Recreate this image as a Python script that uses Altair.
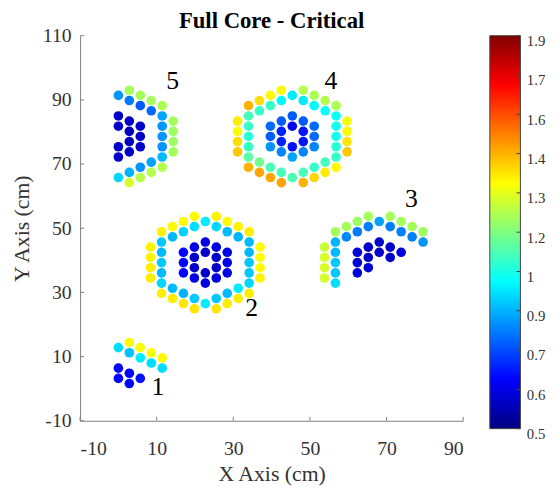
import altair as alt
import pandas as pd

SERIF = "Liberation Serif"

# ---- assembly centres (cm) ----
asm_id = [1, 2, 3, 4, 5]
asm_cx = [0.0, 22.7, 68.1, 45.4, 0.0]
asm_cy = [0.0, 39.3, 39.3, 78.6, 78.6]

# rod lattice spacing (cm): column step and half of the row pitch
COL_STEP = 2.86
HALF_PITCH = 1.60

# rods of each assembly: (column index, half-row index, value)
asm1 = [
    (0, 2, 0.68), (0, 4, 0.68), (1, 1, 0.68), (1, 3, 0.68), (2, 2, 0.70),
    (0, 8, 0.98), (1, 7, 0.94), (2, 6, 1.00), (3, 5, 0.98), (4, 4, 0.98),
    (1, 9, 1.38), (2, 8, 1.37), (3, 7, 1.37), (4, 6, 1.38),
]

asm2 = [
    (0, 2, 0.60), (-1, 1, 0.60), (1, 1, 0.60), (-1, -1, 0.60), (1, -1, 0.60), (0, -2, 0.60),
    (0, 4, 0.63), (-1, 3, 0.64), (1, 3, 0.63), (-2, 2, 0.68), (2, 2, 0.64), (-2, 0, 0.68),
    (2, 0, 0.64), (-2, -2, 0.68), (2, -2, 0.64), (-1, -3, 0.64), (1, -3, 0.63), (0, -4, 0.63),
    (0, 8, 1.00), (-1, 7, 0.98), (1, 7, 0.97), (-2, 6, 0.96), (2, 6, 0.93), (-3, 5, 0.93),
    (3, 5, 0.92), (-4, 4, 0.95), (4, 4, 0.93), (-4, 2, 0.93), (4, 2, 0.93), (-4, 0, 0.95),
    (4, 0, 0.95), (-4, -2, 0.93), (4, -2, 0.95), (-4, -4, 0.97), (4, -4, 0.97), (-3, -5, 0.93),
    (3, -5, 1.00), (-2, -6, 0.92), (2, -6, 0.93), (-1, -7, 0.95), (1, -7, 0.95), (0, -8, 1.00),
    (-1, 9, 1.38), (1, 9, 1.39), (-2, 8, 1.38), (2, 8, 1.38), (-3, 7, 1.38), (3, 7, 1.39),
    (-4, 6, 1.39), (4, 6, 1.40), (-5, 3, 1.39), (5, 3, 1.38), (-5, 1, 1.39), (5, 1, 1.38),
    (-5, -1, 1.40), (5, -1, 1.38), (-5, -3, 1.40), (5, -3, 1.39), (-4, -6, 1.40), (4, -6, 1.40),
    (-3, -7, 1.40), (3, -7, 1.40), (-2, -8, 1.41), (2, -8, 1.40), (-1, -9, 1.41), (1, -9, 1.41),
]

asm3 = [
    (-2, 2, 0.62), (-2, 0, 0.62), (-2, -2, 0.62), (-1, 3, 0.60), (-1, 1, 0.60), (-1, -1, 0.62),
    (0, 4, 0.60), (0, 2, 0.60), (1, 3, 0.60), (1, 1, 0.60), (2, 2, 0.62),
    (-4, -4, 0.98), (-4, -2, 0.95), (-4, 0, 0.95), (-4, 2, 0.93), (-4, 4, 0.92), (-3, 5, 0.86),
    (-2, 6, 0.84), (-1, 7, 0.85), (0, 8, 0.90), (1, 7, 0.85), (2, 6, 0.85), (3, 5, 0.85), (4, 4, 0.88),
    (-5, -3, 1.32), (-5, -1, 1.32), (-5, 1, 1.32), (-5, 3, 1.30), (-4, 6, 1.25), (-3, 7, 1.25),
    (-2, 8, 1.24), (-1, 9, 1.25), (1, 9, 1.25), (2, 8, 1.25), (3, 7, 1.25), (4, 6, 1.24),
]

asm4 = [
    (0, 2, 0.66), (-1, 1, 0.72), (1, 1, 0.70), (-1, -1, 0.72), (1, -1, 0.70), (0, -2, 0.70),
    (0, 4, 0.80), (-1, 3, 0.80), (1, 3, 0.80), (-2, 2, 0.82), (2, 2, 0.82), (-2, 0, 0.80),
    (2, 0, 0.82), (-2, -2, 0.88), (2, -2, 0.86), (-1, -3, 0.86), (1, -3, 0.86), (0, -4, 0.90),
    (0, 8, 1.00), (-1, 7, 1.02), (1, 7, 1.00), (-2, 6, 1.10), (2, 6, 1.02), (-3, 5, 1.10),
    (3, 5, 1.03), (-4, 4, 1.12), (4, 4, 1.04), (-4, 2, 1.10), (4, 2, 1.05), (-4, 0, 1.08),
    (4, 0, 1.05), (-4, -2, 1.10), (4, -2, 1.08), (-4, -4, 1.15), (4, -4, 1.10), (-3, -5, 1.18),
    (3, -5, 1.12), (-2, -6, 1.13), (2, -6, 1.10), (-1, -7, 1.12), (1, -7, 1.12), (0, -8, 1.13),
    (-1, 9, 1.38), (1, 9, 1.27), (-2, 8, 1.38), (2, 8, 1.26), (-3, 7, 1.42), (3, 7, 1.27),
    (-4, 6, 1.48), (4, 6, 1.26), (-5, 3, 1.40), (5, 3, 1.36), (-5, 1, 1.37), (5, 1, 1.37),
    (-5, -1, 1.42), (5, -1, 1.41), (-5, -3, 1.45), (5, -3, 1.45), (-4, -6, 1.48), (4, -6, 1.38),
    (-3, -7, 1.50), (3, -7, 1.40), (-2, -8, 1.50), (2, -8, 1.43), (-1, -9, 1.50), (1, -9, 1.48),
]

asm5 = [
    (0, 4, 0.60), (0, 2, 0.60), (0, -2, 0.60), (0, -4, 0.60), (1, 3, 0.60), (1, 1, 0.58),
    (1, -1, 0.58), (1, -3, 0.60), (2, 2, 0.60), (2, 0, 0.60), (2, -2, 0.60),
    (0, 8, 0.88), (1, 7, 0.84), (2, 6, 0.80), (3, 5, 0.82), (4, 4, 0.90), (4, 2, 0.88),
    (4, 0, 0.88), (4, -2, 0.88), (4, -4, 0.93), (3, -5, 0.90), (2, -6, 0.88), (1, -7, 0.92), (0, -8, 0.97),
    (1, 9, 1.25), (2, 8, 1.25), (3, 7, 1.25), (4, 6, 1.26), (5, 3, 1.25), (5, 1, 1.24),
    (5, -1, 1.24), (5, -3, 1.25), (4, -6, 1.27), (3, -7, 1.27), (2, -8, 1.28), (1, -9, 1.32),
]

# assembly number labels
label_text = ["1", "2", "3", "4", "5"]
label_x = [10.3, 34.8, 76.5, 55.5, 14.2]
label_y = [0.5, 25.0, 59.0, 96.0, 96.0]

# axes / colour bar
TITLE = "Full Core - Critical"
x_ticks = [-10, 10, 30, 50, 70, 90]
y_ticks = [-10, 10, 30, 50, 70, 90, 110]
cbar_ticks = [0.5, 0.64, 0.78, 0.92, 1.06, 1.2, 1.34, 1.48, 1.62, 1.76, 1.9]
jet_domain = [0.5, 0.675, 1.025, 1.375, 1.725, 1.9]
jet_colors = ["#000080", "#0000ff", "#00ffff", "#ffff00", "#ff0000", "#800000"]

rows = []
for aid, cx, cy, rods in zip(asm_id, asm_cx, asm_cy, [asm1, asm2, asm3, asm4, asm5]):
    for c, r, v in rods:
        rows.append({"asm": aid, "x": cx + c * COL_STEP, "y": cy + r * HALF_PITCH, "value": v})
rods_df = pd.DataFrame(rows)

W, H = 388, 390
CB_X0, CB_W, CB_LEN = 415, 31, 398

xscale = alt.Scale(domain=[-10, 90], nice=False, zero=False)
yscale = alt.Scale(domain=[-10, 110], nice=False, zero=False)
cbscale = alt.Scale(domain=[jet_domain[0], jet_domain[-1]], range=[CB_LEN, 0], nice=False, zero=False)
AXIS_GRAY = "#808080"
TEXT_GRAY = "#333333"

points = alt.Chart(rods_df).mark_circle(size=95, opacity=1).encode(
    x=alt.X("x:Q", scale=xscale, axis=alt.Axis(
        values=x_ticks, tickSize=0, grid=False, domainColor=AXIS_GRAY,
        labelExpr="toString(datum.value)",
        labelFont=SERIF, labelFontSize=20, labelColor=TEXT_GRAY, labelPadding=18,
        title="X Axis (cm)", titleFont=SERIF, titleFontSize=22, titleFontWeight="normal",
        titleColor=TEXT_GRAY, titlePadding=6)),
    y=alt.Y("y:Q", scale=yscale, axis=alt.Axis(
        values=y_ticks, tickSize=0, grid=False, domainColor=AXIS_GRAY,
        labelExpr="toString(datum.value)",
        labelFont=SERIF, labelFontSize=20, labelColor=TEXT_GRAY, labelPadding=9,
        title="Y Axis (cm)", titleFont=SERIF, titleFontSize=22, titleFontWeight="normal",
        titleColor=TEXT_GRAY, titlePadding=9)),
    color=alt.Color("value:Q", legend=None,
        scale=alt.Scale(domain=jet_domain, range=jet_colors, interpolate="rgb")),
)

labels_df = pd.DataFrame({"x": label_x, "y": label_y, "t": label_text})
labels = alt.Chart(labels_df).mark_text(font=SERIF, fontSize=26, color="black", baseline="middle").encode(
    x=alt.X("x:Q", scale=xscale), y=alt.Y("y:Q", scale=yscale, axis=None), text="t:N")

ytick_df = pd.DataFrame({"v": y_ticks})
yticks = alt.Chart(ytick_df).mark_rule(color=AXIS_GRAY, strokeWidth=1).encode(
    y=alt.Y("v:Q", scale=yscale, axis=None), x=alt.value(0), x2=alt.value(4))
xtick_df = pd.DataFrame({"v": x_ticks})
xticks = alt.Chart(xtick_df).mark_rule(color=AXIS_GRAY, strokeWidth=1).encode(
    x=alt.X("v:Q", scale=xscale), y=alt.value(H), y2=alt.value(H - 4))

title_df = pd.DataFrame({"t": [TITLE]})
title = alt.Chart(title_df).mark_text(font=SERIF, fontSize=23, fontWeight="bold", color="black",
                                      baseline="alphabetic", align="center").encode(
    text="t:N", x=alt.value(W / 2), y=alt.value(-8))

# colour bar: gradient box + its own axis
stops = [alt.GradientStop(offset=(d - jet_domain[0]) / (jet_domain[-1] - jet_domain[0]), color=c)
         for d, c in zip(jet_domain, jet_colors)]
cbar_df = pd.DataFrame({"k": [0]})
cbar = alt.Chart(cbar_df).mark_rect(
    color=alt.Gradient(gradient="linear", stops=stops, x1=0, x2=0, y1=1, y2=0),
    stroke="#444444", strokeWidth=1).encode(
    x=alt.value(CB_X0), x2=alt.value(CB_X0 + CB_W), y=alt.value(0), y2=alt.value(CB_LEN))

cbt_df = pd.DataFrame({"cb": cbar_ticks})
cbar_axis = alt.Chart(cbt_df).mark_rule(color="#444444", strokeWidth=1).encode(
    y=alt.Y("cb:Q", scale=cbscale, axis=alt.Axis(
        orient="right", offset=CB_X0 + CB_W - W, values=cbar_ticks,
        labelExpr="toString(floor(datum.value*10+0.0001)/10)",
        domain=False, ticks=False, grid=False, title=None,
        labelFont=SERIF, labelFontSize=15, labelColor=TEXT_GRAY, labelPadding=6,
        labelOffset=5, labelFlush=False, labelOverlap=False)),
    x=alt.value(CB_X0 + CB_W - 4), x2=alt.value(CB_X0 + CB_W))

chart = alt.layer(points, labels, yticks, xticks, title, cbar, cbar_axis).resolve_scale(
    y="independent").properties(
    width=W, height=H,
    autosize=alt.AutoSizeParams(type="none"),
    padding={"left": 73, "top": 25, "right": 90, "bottom": 63},
).configure_view(stroke=None)

chart.save("out.html", embed_options={"renderer": "svg", "actions": False})
